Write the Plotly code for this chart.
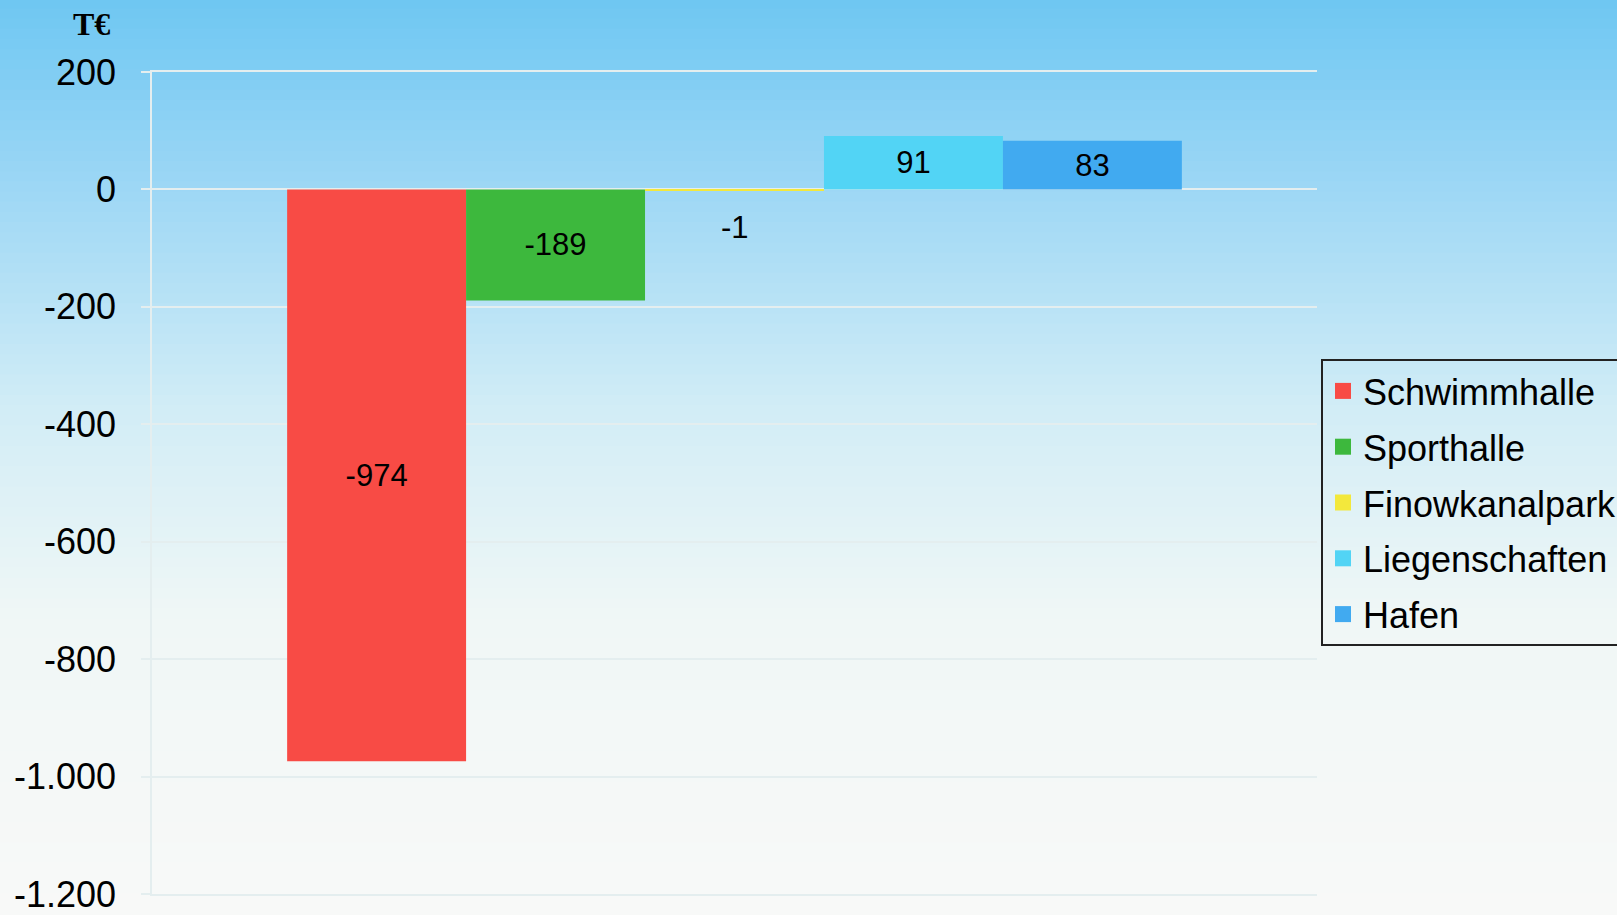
import plotly.graph_objects as go

# ---- data ----
category = ["Ergebnis"]
series_names = ["Schwimmhalle", "Sporthalle", "Finowkanalpark", "Liegenschaften", "Hafen"]
series_values = [-974, -189, -1, 91, 83]
series_colors = ["#F84B45", "#3DB83D", "#F3E83C", "#52D4F5", "#41AAF0"]
y_tickvals = [200, 0, -200, -400, -600, -800, -1000, -1200]
y_ticktext = ["200", "0", "-200", "-400", "-600", "-800", "-1.000", "-1.200"]
unit_label = "T€"

W, H = 1617, 915
L, R, T, B = 152, 300, 72, 21
pw, ph = W - L - R, H - T - B

fig = go.Figure()

for name, val, col in zip(series_names, series_values, series_colors):
    small = abs(val) < 20
    fig.add_trace(go.Bar(
        x=category, y=[val], name=name,
        marker=dict(color=col, line=dict(width=0)),
        text=[str(val)],
        textposition="none" if small else "inside",
        insidetextanchor="middle",
        textangle=0,
        constraintext="none",
        textfont=dict(family="Liberation Sans, Arial", size=31, color="black"),
        showlegend=False,
        hoverinfo="skip",
    ))
    if small:
        fig.add_annotation(x=category[0], y=val, xref="x", yref="y",
                           text=str(val), showarrow=False, yshift=-37,
                           font=dict(family="Liberation Sans, Arial", size=31, color="black"))

# legend proxies
for i, (name, col) in enumerate(zip(series_names, series_colors)):
    fig.add_trace(go.Scatter(
        x=[None], y=[None], mode="markers", name=name,
        marker=dict(symbol="square", size=16, color=col),
        legendgroup=f"g{i}", showlegend=True,
    ))

# background gradient (style only)
stops = [(0.0, (110, 199, 242)), (0.22, (160, 216, 245)), (0.45, (210, 237, 246)),
         (0.68, (240, 247, 246)), (1.0, (248, 249, 248))]

def col_at(t):
    for (t0, c0), (t1, c1) in zip(stops[:-1], stops[1:]):
        if t0 <= t <= t1:
            f = (t - t0) / (t1 - t0)
            return "rgb(%d,%d,%d)" % tuple(round(a + (b - a) * f) for a, b in zip(c0, c1))
    return "rgb(%d,%d,%d)" % stops[-1][1]

N = 90
x0p, x1p = -(L + 5) / pw, (W - L + 5) / pw
for k in range(N):
    ytop_px = H * k / N
    ybot_px = H * (k + 1) / N
    y0p = (H - B - ybot_px) / ph
    y1p = (H - B - ytop_px) / ph + 0.002
    fig.add_shape(type="rect", xref="paper", yref="paper",
                  x0=x0p, x1=x1p, y0=y0p - (0.01 if k == N - 1 else 0),
                  y1=y1p + (0.01 if k == 0 else 0),
                  fillcolor=col_at((k + 0.5) / N), line=dict(width=0), layer="below")

fig.add_annotation(xref="paper", yref="paper", x=(91 - L) / pw, y=(H - B - 24) / ph,
                   text=f"<b>{unit_label}</b>", showarrow=False,
                   xanchor="center", yanchor="middle",
                   font=dict(family="Liberation Serif, Times New Roman", size=32, color="black"))

grid = "#E4EEEF"
fig.update_layout(
    width=W, height=H,
    margin=dict(l=L, r=R, t=T, b=B, pad=0, autoexpand=False),
    paper_bgcolor="white", plot_bgcolor="rgba(0,0,0,0)",
    barmode="group", bargap=0.232, bargroupgap=0,
    font=dict(family="Liberation Sans, Arial", color="black"),
    xaxis=dict(showticklabels=False, showgrid=False, zeroline=False,
               showline=True, mirror=True, linecolor=grid, linewidth=1.5,
               ticks=""),
    yaxis=dict(range=[-1200, 200], tickvals=y_tickvals, ticktext=y_ticktext,
               showgrid=True, gridcolor=grid, gridwidth=1.5,
               zeroline=True, zerolinecolor=grid, zerolinewidth=1.5,
               showline=True, linecolor=grid, linewidth=1.5,
               ticks="outside", ticklen=9, tickcolor=grid, tickwidth=1.5,
               ticklabelstandoff=18, automargin=False, ticklabeloverflow="allow",
               tickfont=dict(family="Liberation Sans, Arial", size=36, color="black")),
    legend=dict(x=(1321 - L) / pw, y=(H - B - 359) / ph, xanchor="left", yanchor="top",
                bgcolor="rgba(0,0,0,0)", bordercolor="#222222", borderwidth=2,
                font=dict(family="Liberation Sans, Arial", size=36, color="black"),
                tracegroupgap=6, itemsizing="trace"),
    showlegend=True,
)

fig.write_html("out.html", config={"displayModeBar": False},
               post_script="document.body.style.margin='0';document.body.style.overflow='hidden';")
